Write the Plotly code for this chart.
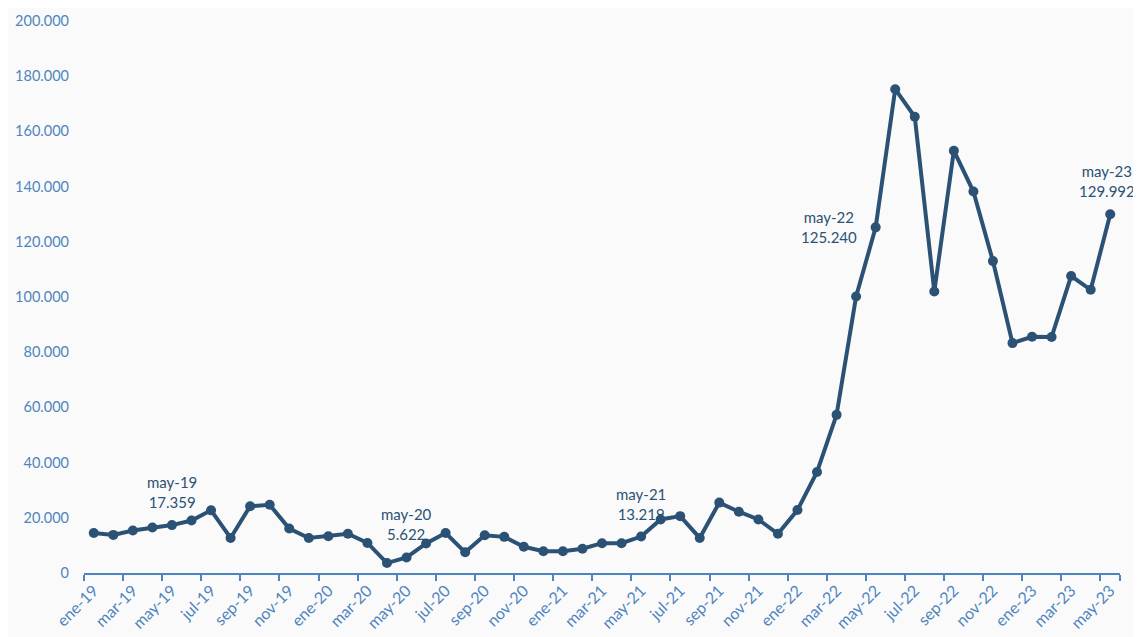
import plotly.graph_objects as go

months = ["ene", "feb", "mar", "abr", "may", "jun", "jul", "ago", "sep", "oct", "nov", "dic"]
categories = [f"{m}-{y}" for y in ["19", "20", "21", "22", "23"] for m in months][:53]

values = [
    14500, 13800, 15400, 16500, 17359, 19000, 22700, 12700, 24200, 24700, 16100, 12700,   # 2019
    13300, 14200, 10900, 3600, 5622, 10700, 14500, 7500, 13700, 13100, 9500, 7900,        # 2020
    7900, 8800, 10800, 10800, 13219, 19400, 20600, 12700, 25500, 22200, 19400, 14200,     # 2021
    22800, 36600, 57300, 100200, 125240, 175300, 165300, 102000, 153000, 138200, 113000, 83300,  # 2022
    85600, 85500, 107600, 102600, 129992,                                               # 2023
]

labelled = ["may-19", "may-20", "may-21", "may-22", "may-23"]
tick_labels = categories[::2]

line_color = "#2B5275"
axis_color = "#4F84BE"
font_family = "Lato, 'Open Sans', sans-serif"

fig = go.Figure()
fig.add_trace(go.Scatter(
    x=categories, y=values, mode="lines+markers",
    line=dict(color=line_color, width=4),
    marker=dict(color=line_color, size=10),
    hoverinfo="skip",
))

for lab in labelled:
    i = categories.index(lab)
    v = values[i]
    txt = f"{lab}<br>{v:,}".replace(",", ".")
    if lab == "may-22":
        fig.add_annotation(x=lab, y=v, text=txt, showarrow=False,
                           xanchor="right", yanchor="middle", xshift=-17, yshift=0,
                           font=dict(family=font_family, size=15, color=line_color))
    else:
        fig.add_annotation(x=lab, y=v, text=txt, showarrow=False,
                           xanchor="center", yanchor="bottom", yshift=12,
                           xshift=-3 if lab == "may-23" else 0,
                           font=dict(family=font_family, size=15, color=line_color))

fig.update_layout(
    width=1133, height=629,
    margin=dict(l=76, r=21, t=13, b=64),
    paper_bgcolor="#FAFAFA", plot_bgcolor="#FAFAFA",
    separators=",.",
    showlegend=False,
    font=dict(family=font_family, size=15, color=axis_color),
)
fig.update_xaxes(
    type="category", range=[-0.5, 52.5], automargin=False,
    tickmode="array", tickvals=tick_labels, ticktext=tick_labels,
    tickson="boundaries", ticks="outside", ticklen=6, tickcolor=axis_color, tickwidth=2,
    showline=True, linecolor=axis_color, linewidth=2,
    tickangle=-45, showgrid=False, zeroline=False,
    tickfont=dict(family=font_family, size=16, color=axis_color),
)
fig.update_yaxes(
    range=[0, 200000], tick0=0, dtick=20000, tickformat=",d", automargin=False,
    showgrid=False, zeroline=False, showline=False, ticks="", ticklabelstandoff=14,
    tickfont=dict(family=font_family, size=14.5, color=axis_color),
)

fig.write_html("out.html")
